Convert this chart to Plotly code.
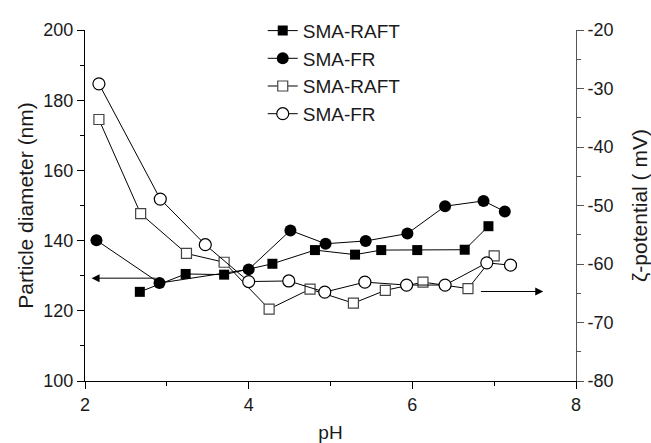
import plotly.graph_objects as go

# Particle diameter (left axis)
raft_d_ph = [2.67, 3.23, 3.70, 4.29, 4.81, 5.30, 5.62, 6.06, 6.64, 6.93]
raft_d_val = [125.4, 130.5, 130.3, 133.4, 137.3, 136.0, 137.3, 137.3, 137.4, 144.1]
fr_d_ph = [2.14, 2.91, 4.00, 4.51, 4.94, 5.43, 5.94, 6.40, 6.87, 7.13]
fr_d_val = [140.1, 127.9, 131.8, 142.9, 139.1, 139.9, 142.0, 149.8, 151.3, 148.3]

# Zeta potential (right axis)
raft_z_ph = [2.17, 2.68, 3.24, 3.70, 4.25, 4.75, 5.28, 5.67, 6.13, 6.68, 7.00]
raft_z_val = [-35.3, -51.4, -58.2, -59.7, -67.7, -64.3, -66.7, -64.5, -63.1, -64.2, -58.6]
fr_z_ph = [2.17, 2.92, 3.47, 4.00, 4.49, 4.93, 5.42, 5.93, 6.40, 6.91, 7.20]
fr_z_val = [-29.2, -48.9, -56.7, -63.0, -62.9, -64.8, -63.1, -63.6, -63.6, -59.8, -60.2]

# Tick labels
x_ticks = [2, 4, 6, 8]
y_ticks = [100, 120, 140, 160, 180, 200]
y2_ticks = [-80, -70, -60, -50, -40, -30, -20]
y2_ticktext = ["-80", "-70", "-60", "-50", "-40", "-30", "-20"]

# Axis-indicator arrows (data coordinates)
left_arrow = dict(x_tip=2.08, x_tail=2.88, y=129.3)
right_arrow = dict(x_tip=7.60, x_tail=6.82, y=-64.7)

FONT = "Liberation Sans, Arial, sans-serif"
TXT = "#1a1a1a"
line_style = dict(color="black", width=1)

fig = go.Figure()
fig.add_trace(go.Scatter(x=raft_d_ph, y=raft_d_val, mode="lines+markers", name="SMA-RAFT",
                         line=line_style,
                         marker=dict(symbol="square", size=10, color="black")))
fig.add_trace(go.Scatter(x=fr_d_ph, y=fr_d_val, mode="lines+markers", name="SMA-FR",
                         line=line_style,
                         marker=dict(symbol="circle", size=12, color="black")))
fig.add_trace(go.Scatter(x=raft_z_ph, y=raft_z_val, mode="lines+markers", name="SMA-RAFT",
                         yaxis="y2", line=line_style,
                         marker=dict(symbol="square", size=10, color="white",
                                     line=dict(color="#444", width=1.2))))
fig.add_trace(go.Scatter(x=fr_z_ph, y=fr_z_val, mode="lines+markers", name="SMA-FR",
                         yaxis="y2", line=line_style,
                         marker=dict(symbol="circle", size=12, color="white",
                                     line=dict(color="black", width=1.2))))

fig.add_annotation(x=left_arrow["x_tip"], y=left_arrow["y"], ax=left_arrow["x_tail"],
                   ay=left_arrow["y"], xref="x", yref="y", axref="x", ayref="y",
                   showarrow=True, arrowhead=2, arrowsize=1.6, arrowwidth=1,
                   arrowcolor="black", text="")
fig.add_annotation(x=right_arrow["x_tip"], y=right_arrow["y"], ax=right_arrow["x_tail"],
                   ay=right_arrow["y"], xref="x", yref="y2", axref="x", ayref="y2",
                   showarrow=True, arrowhead=2, arrowsize=1.6, arrowwidth=1,
                   arrowcolor="black", text="")

axis_common = dict(showgrid=False, zeroline=False, showline=True, linecolor="black",
                   linewidth=1, ticks="outside", ticklen=7, tickcolor="black",
                   automargin=False,
                   tickfont=dict(size=18, color=TXT, family=FONT))

fig.update_layout(
    width=651, height=443,
    margin=dict(l=85, r=75, t=19, b=62),
    paper_bgcolor="white", plot_bgcolor="white",
    font=dict(family=FONT, color=TXT),
    xaxis=dict(range=[2, 8], tickvals=x_ticks,
               minor=dict(dtick=1, ticklen=4, ticks="outside", tickcolor="black"),
               title=dict(text="pH", font=dict(size=19, family=FONT, color=TXT), standoff=16),
               **axis_common),
    yaxis=dict(range=[100, 200], tickvals=y_ticks,
               minor=dict(dtick=10, ticklen=4, ticks="outside", tickcolor="black"),
               title=dict(text="Particle diameter (nm)", font=dict(size=21, family=FONT, color=TXT),
                          standoff=4),
               **axis_common),
    yaxis2=dict(range=[-80, -20], tickvals=y2_ticks, ticktext=y2_ticktext,
                overlaying="y", side="right",
                minor=dict(dtick=5, ticklen=4, ticks="outside", tickcolor="#555"),
                title=dict(text="ζ-potential ( mV)", font=dict(size=21, family=FONT, color=TXT),
                           standoff=21),
                **{**axis_common, "linecolor": "#555", "tickcolor": "#555"}),
    legend=dict(x=0.362, y=1.052, xanchor="left", yanchor="top", bgcolor="rgba(0,0,0,0)",
                font=dict(size=19, family=FONT, color=TXT), tracegroupgap=0,
                itemsizing="trace"),
    showlegend=True,
)

fig.write_html("out.html")
